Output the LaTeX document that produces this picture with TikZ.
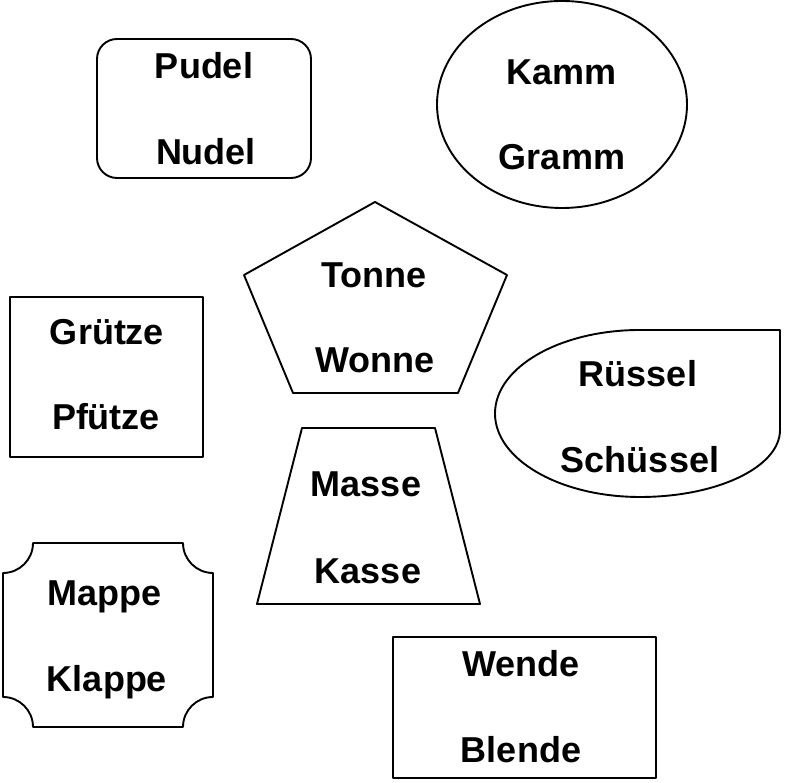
\documentclass[tikz,border=0pt]{standalone}
\usepackage{fontspec}
\usepackage{tikz}
\setmainfont{Liberation Sans}
\newcommand{\wordfont}{\fontsize{36}{40}\selectfont\bfseries}
\tikzstyle{every node}=[font=\wordfont,anchor=base,inner sep=0pt]
\tikzstyle{every path}=[line width=1.9pt,line join=round]

\begin{document}
\begin{tikzpicture}[x=1pt,y=1pt]
\useasboundingbox (0,0) rectangle (785,783);
\draw[rounded corners=20pt] (97,605) rectangle (311,744);
\draw (562,678.5) ellipse [x radius=125,y radius=103.5];
\draw (375,581)--(507,508)--(458,390)--(293,390)--(244,508)--cycle;
\draw (10,326) rectangle (203,486);
\draw (780,453)--(780,353) arc[start angle=0,end angle=-90,x radius=140,y radius=67]
  arc[start angle=270,end angle=90,x radius=145,y radius=83.5]--cycle;
\draw (302,355)--(435,355)--(480,179)--(257,179)--cycle;
\draw (33,240)--(183,240) arc[start angle=180,end angle=270,radius=30]
  --(213,86) arc[start angle=90,end angle=180,radius=30]
  --(33,56) arc[start angle=0,end angle=90,radius=30]
  --(3,210) arc[start angle=270,end angle=360,radius=30]--cycle;
\draw (393,146) rectangle (656,5);
\node (pudel) at (204,704){Pudel};
\node (nudel) at (206,618){Nudel};
\node (kamm) at (562,698){Kamm};
\node (gramm) at (562,613){Gramm};
\node (tonne) at (374,495){Tonne};
\node (wonne) at (375,410){Wonne};
\node (gruetze) at (107,438){Grütze};
\node (pfuetze) at (106,353){Pfütze};
\node (ruessel) at (638,396){Rüssel};
\node (schuessel) at (640,310){Schüssel};
\node (masse) at (366,286){Masse};
\node (kasse) at (368,199){Kasse};
\node (mappe) at (105,177){Mappe};
\node (klappe) at (107,91){Klappe};
\node (wende) at (521,106){Wende};
\node (blende) at (521,20){Blende};
\end{tikzpicture}
\end{document}
